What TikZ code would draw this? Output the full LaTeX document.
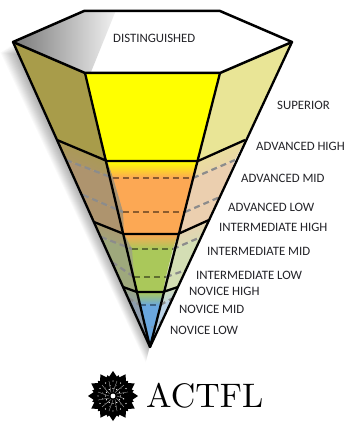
\documentclass[tikz,border=0pt]{standalone}
\usepackage{fontspec}
\setsansfont{Carlito}
\font\logofont="[lmroman10-regular.otf]" at 34pt
\definecolor{midyel}{RGB}{255,255,0}
\definecolor{midora}{RGB}{252,168,84}
\definecolor{midgre}{RGB}{170,200,90}
\definecolor{midblu}{RGB}{106,167,223}
\definecolor{lefyel}{RGB}{168,156,74}
\definecolor{lefora}{RGB}{174,148,110}
\definecolor{lefgre}{RGB}{158,168,124}
\definecolor{lefblu}{RGB}{142,157,174}
\definecolor{rigyel}{RGB}{233,229,150}
\definecolor{rigora}{RGB}{235,207,175}
\definecolor{riggre}{RGB}{212,222,180}
\definecolor{rigblu}{RGB}{186,210,230}
\definecolor{labelgray}{RGB}{35,35,40}
\tikzset{
  outline/.style={black,line width=2.3pt,line join=round},
  levellabel/.style={anchor=west,inner sep=0pt,labelgray,font=\sffamily\fontsize{12.8}{14}\selectfont},
  sidedash/.style={dashed,dash pattern=on 6pt off 4pt,line width=2.2pt,gray!90},
}
\begin{document}
\begin{tikzpicture}[x=1pt,y=-1pt]
  \useasboundingbox (0,0) rectangle (346,422);
  \fill[white] (0,0) rectangle (346,422);
  % soft shadow on the left
  \foreach \i in {1,...,14}
    \fill[black,opacity=0.022] (13-0.9*\i,44+0.6*\i) -- (150-0.3*\i,347+1.1*\i) -- (160,300) -- (80,60) -- cycle;
  % levels: name / outer left / inner left / inner right / outer right
  \foreach \n/\xa/\ya/\xb/\yb/\xc/\xd/\yd in {
      top/13/42/85/73/220/292/42,
      sup/57/140/107/161/198/245/140,
      advm/66/160/113/178/193/235/160,
      advl/83/195/123/212/185/220/197,
      inth/94/222/124/234/178/209/220,
      intm/101/237/132/249/173/201/237,
      intl/112/262/134/277/166/186/270,
      novh/123/287/137/292/163/178/287,
      novm/128/298/140/305/160/173/298,
      novl/136/316/145/327/155/164/318,
      tip/150/347/150/347/150/150/347} {
    \coordinate (\n-L) at (\xa,\ya);
    \coordinate (\n-l) at (\xb,\yb);
    \coordinate (\n-r) at (\xc,\yb);
    \coordinate (\n-R) at (\xd,\yd);
  }
  \coordinate (hexTL) at (84,11);
  \coordinate (hexTR) at (220,11);
  % coloured bands
  \foreach \t/\b/\ca/\cb in {
      top/sup/yel/yel, sup/advm/yel/ora, advm/advl/ora/ora, advl/inth/ora/ora,
      inth/intm/ora/gre, intm/intl/gre/gre, intl/novh/gre/gre,
      novh/novm/gre/blu, novm/novl/blu/blu, novl/tip/blu/blu} {
    \shade[top color=mid\ca,bottom color=mid\cb] (\t-l) -- (\t-r) -- (\b-r) -- (\b-l) -- cycle;
    \shade[top color=lef\ca,bottom color=lef\cb,shading angle=-23] (\t-L) -- (\t-l) -- (\b-l) -- (\b-L) -- cycle;
    \shade[top color=rig\ca,bottom color=rig\cb,shading angle=23] (\t-r) -- (\t-R) -- (\b-R) -- (\b-r) -- cycle;
  }
  % dashed level marks
  \foreach \n/\c in {advm/midora!55!black,advl/midora!55!black,intm/midgre!55!black,intl/midgre!55!black,novm/midblu!60!black} {
    \draw[sidedash] (\n-L) -- (\n-l);
    \draw[sidedash,\c] (\n-l) -- (\n-r);
    \draw[sidedash] (\n-r) -- (\n-R);
  }
  \draw[sidedash,line width=1.2pt,opacity=0.6] (novl-L) -- (novl-l) -- (novl-r) -- (novl-R);
  % solid level lines
  \foreach \n in {sup,inth,novh}
    \draw[outline] (\n-L) -- (\n-l) -- (\n-r) -- (\n-R);
  \draw[outline] (top-L) -- (tip-l) -- (top-R);
  \draw[outline] (top-l) -- (tip-l) -- (top-r);
  % top of the cone
  \fill[white] (top-L) -- (hexTL) -- (hexTR) -- (top-R) -- (top-r) -- (top-l) -- cycle;
  \begin{scope}
    \clip (top-L) -- (hexTL) -- (hexTR) -- (top-R) -- (top-r) -- (top-l) -- cycle;
    \shade[left color=black!68,right color=white,rotate around={-22:(60,42)}] (5,-40) rectangle (100,120);
  \end{scope}
  \draw[outline,line width=2.5pt] (top-L) -- (hexTL) -- (hexTR) -- (top-R) -- (top-r) -- (top-l) -- cycle;
  % labels
  \node[levellabel] (distinguished) at (113,38.5) {DISTINGUISHED};
  \node[levellabel] (superior) at (277,105) {SUPERIOR};
  \node[levellabel] (advhigh) at (256,146) {ADVANCED HIGH};
  \node[levellabel] (advmid) at (241,178) {ADVANCED MID};
  \node[levellabel] (advlow) at (228,207) {ADVANCED LOW};
  \node[levellabel] (inthigh) at (219,227) {INTERMEDIATE HIGH};
  \node[levellabel] (intmid) at (207,251) {INTERMEDIATE MID};
  \node[levellabel] (intlow) at (196,275) {INTERMEDIATE LOW};
  \node[levellabel] (novhigh) at (189,291) {NOVICE HIGH};
  \node[levellabel] (novmid) at (179,309) {NOVICE MID};
  \node[levellabel] (novlow) at (170,330) {NOVICE LOW};
  % logo
  \begin{scope}[shift={(113,396)}]
    \fill[black] (0,0) circle (18);
    \foreach \a in {0,30,...,330} {
      \fill[black,rotate=\a] (14,-7.5) -- (25,0) -- (14,7.5) -- (8,0) -- cycle;
      \fill[black,rotate=\a+15] (12,-7) -- (21.5,0) -- (12,7) -- cycle;
      \fill[white,rotate=\a] (15,0) circle (0.7);
      \fill[white,rotate=\a+15] (11,0) circle (0.7);
      \fill[white,rotate=\a] (7.5,0) circle (0.7);
      \draw[white,line width=0.2pt,rotate=\a] (4,0) -- (15,4);
    }
    \fill[white] (0,0) circle (2.4);
  \end{scope}
  \node[anchor=west,inner sep=0pt,black,font=\logofont] (actfl) at (146,396) {ACTFL};
\end{tikzpicture}
\end{document}
